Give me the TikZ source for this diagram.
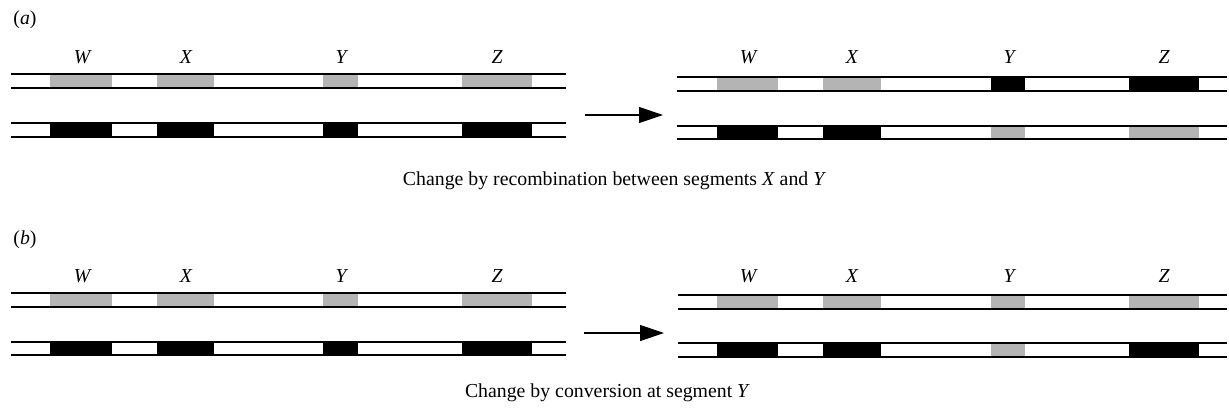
\documentclass[tikz,border=0pt]{standalone}
\usepackage{fontspec}
\setmainfont{Liberation Serif}
\usetikzlibrary{arrows.meta}
\definecolor{seggray}{RGB}{180,180,180}
\begin{document}
\begin{tikzpicture}[x=0.5pt,y=-0.5pt,
  strand/.style={line width=0.85pt, black},
  grayseg/.style={fill=seggray},
  blackseg/.style={fill=black},
  seglabel/.style={font=\fontsize{9.9}{11}\selectfont\itshape, anchor=base, inner sep=0pt},
  captiontext/.style={font=\fontsize{9.9}{11}\selectfont, anchor=base, inner sep=0pt},
  paneltag/.style={font=\fontsize{9.9}{11}\selectfont, inner sep=0pt},
  convarrow/.style={line width=0.6pt, -{Triangle[length=12pt,width=8pt]}}
]
\useasboundingbox (0,0) rectangle (1229,413);

% ---------------- panel (a) ----------------
\node[paneltag] (taga) at (25,20) {(\textit{a})};

% left pair (a)
\foreach \a/\b in {50/112,157/214,323/358,462/532}{
  \fill[grayseg] (\a,74) rectangle (\b,88);
  \fill[blackseg] (\a,123) rectangle (\b,137);
}
\foreach \y in {74,88,123,137}{\draw[strand] (11,\y) -- (566,\y);}
\foreach \t/\c in {W/82,X/186,Y/341,Z/497}{\node[seglabel] (la\t) at (\c,63) {\t};}

% right pair (a)
\foreach \a/\b in {717/778,823/881}{
  \fill[grayseg] (\a,77) rectangle (\b,91);
  \fill[blackseg] (\a,126) rectangle (\b,139);
}
\foreach \a/\b in {991/1025,1129/1199}{
  \fill[blackseg] (\a,77) rectangle (\b,91);
  \fill[grayseg] (\a,126) rectangle (\b,139);
}
\foreach \y in {77,91,126,139}{\draw[strand] (677,\y) -- (1227,\y);}
\foreach \t/\c in {W/748,X/852,Y/1009,Z/1164}{\node[seglabel] (ra\t) at (\c,63) {\t};}

\coordinate (arA1) at (585,115);
\coordinate (arA2) at (663,115);
\draw[convarrow] (arA1) -- (arA2);

\node[captiontext] (capa) at (614.5,185) {Change by recombination between segments \textit{X} and \textit{Y}};

% ---------------- panel (b) ----------------
\node[paneltag] (tagb) at (25,240) {(\textit{b})};

% left pair (b)
\foreach \a/\b in {50/112,157/214,323/358,462/532}{
  \fill[grayseg] (\a,293) rectangle (\b,307);
  \fill[blackseg] (\a,342) rectangle (\b,355);
}
\foreach \y in {293,307,342,355}{\draw[strand] (11,\y) -- (566,\y);}
\foreach \t/\c in {W/82,X/186,Y/341,Z/497}{\node[seglabel] (lb\t) at (\c,282) {\t};}

% right pair (b)
\foreach \a/\b in {717/778,823/881,991/1025,1129/1199}{
  \fill[grayseg] (\a,295) rectangle (\b,309);
}
\foreach \a/\b in {717/778,823/881,1129/1199}{
  \fill[blackseg] (\a,343) rectangle (\b,357);
}
\fill[grayseg] (991,343) rectangle (1025,357);
\foreach \y in {295,309,343,357}{\draw[strand] (678,\y) -- (1227,\y);}
\foreach \t/\c in {W/748,X/852,Y/1009,Z/1164}{\node[seglabel] (rb\t) at (\c,282) {\t};}

\coordinate (arB1) at (584,333);
\coordinate (arB2) at (664,333);
\draw[convarrow] (arB1) -- (arB2);

\node[captiontext] (capb) at (607.5,397) {Change by conversion at segment \textit{Y}};
\end{tikzpicture}
\end{document}
